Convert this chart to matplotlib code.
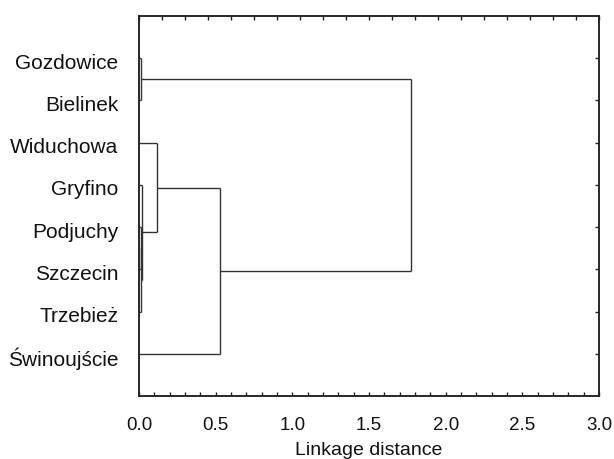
import numpy as np
import matplotlib
matplotlib.use("Agg")
import matplotlib.pyplot as plt
from matplotlib.transforms import ScaledTranslation

plt.rcParams['font.family'] = ['Liberation Sans', 'DejaVu Sans']

# Leaves in display order (top to bottom)
leaves = ["Gozdowice", "Bielinek", "Widuchowa", "Gryfino",
          "Podjuchy", "Szczecin", "Trzebież", "Świnoujście"]

# Merges: (cluster a, cluster b, linkage distance); leaves are 0..7, new clusters 8, 9, ...
merge_a = [0, 4, 9, 3, 2, 12, 8]
merge_b = [1, 5, 6, 10, 11, 7, 13]
merge_dist = [0.012, 0.010, 0.014, 0.018, 0.115, 0.526, 1.775]

x_ticks = [0.0, 0.5, 1.0, 1.5, 2.0, 2.5, 3.0]
x_tick_labels = ["0.0", "0.5", "1.0", "1.5", "2.0", "2.5", "3.0"]

fig = plt.figure(figsize=(6.14, 4.59), dpi=100)
ax = fig.add_axes([0.2264, 0.1373, 0.7492, 0.8278])

line_kw = dict(color="#333333", lw=1.0, solid_capstyle="butt")

pos = {i: float(i + 1) for i in range(len(leaves))}
height = {i: 0.0 for i in range(len(leaves))}
for k, (a, b, d) in enumerate(zip(merge_a, merge_b, merge_dist)):
    new = len(leaves) + k
    ya, yb = pos[a], pos[b]
    ax.plot([height[a], d], [ya, ya], **line_kw)
    ax.plot([height[b], d], [yb, yb], **line_kw)
    ax.plot([d, d], [ya, yb], **line_kw)
    pos[new] = (ya + yb) / 2.0
    height[new] = d

ax.set_xlim(0, 3.0)
ax.set_ylim(len(leaves) + 1, 0)

ax.set_yticks(np.arange(1, len(leaves) + 1))
ax.set_yticklabels(leaves, fontsize=15, color="#111111")
ax.tick_params(axis="y", which="both", left=False, right=True, direction="in",
               length=3, width=1.0, pad=15, color="#222222")
shift = ScaledTranslation(0, -3 / 100, fig.dpi_scale_trans)
for lbl in ax.get_yticklabels():
    lbl.set_transform(lbl.get_transform() + shift)

ax.set_xticks(x_ticks)
ax.set_xticklabels(x_tick_labels, fontsize=13.5, color="#111111")
ax.set_xticks(np.arange(0, 3.0001, 0.1), minor=True)
ax.tick_params(axis="x", which="both", bottom=True, top=False, direction="in",
               length=3, width=1.0, pad=15, color="#222222")
ax.set_xlabel("Linkage distance", fontsize=14, color="#111111", labelpad=6)

# top minor ticks (every 0.15)
axt = ax.twiny()
axt.set_xlim(0, 3.0)
axt.set_xticks(np.arange(0, 3.0001, 0.15))
axt.tick_params(axis="x", top=True, direction="in", length=3, width=1.0,
                labeltop=False, color="#222222")

for a_ in (ax, axt):
    for s in a_.spines.values():
        s.set_linewidth(1.1)
        s.set_color("#222222")

fig.savefig("out.png", dpi=100)
